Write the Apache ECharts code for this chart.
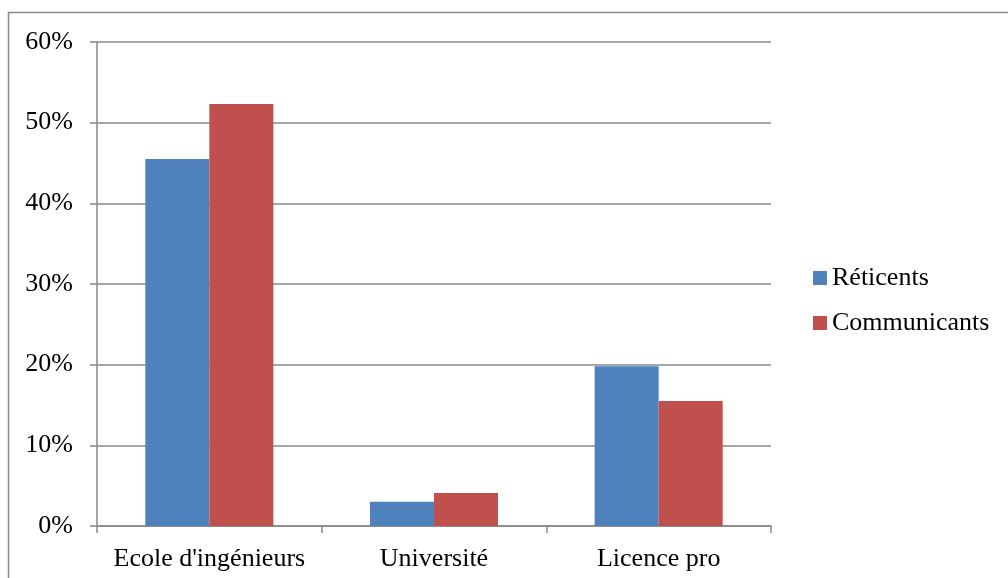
<!DOCTYPE html>
<html>
<head>
<meta charset="utf-8">
<script src="https://cdn.jsdelivr.net/npm/echarts@6/dist/echarts.min.js"></script>
<style>
html, body { margin: 0; padding: 0; background: #fff; }
#chart { width: 1008px; height: 578px; }
</style>
</head>
<body>
<div id="chart"></div>
<script>
// données
var categories = ["Ecole d'ingénieurs", 'Université', 'Licence pro'];
var seriesNames = ['Réticents', 'Communicants'];
var reticents = [45.5, 3.0, 19.8];
var communicants = [52.3, 4.1, 15.5];

var chart = echarts.init(document.getElementById('chart'));
var fontFam = '"Liberation Serif", "DejaVu Serif", serif';

var option = {
    backgroundColor: '#fff',
    textStyle: { fontFamily: fontFam },
    graphic: [{
        type: 'rect',
        shape: { x: 8.5, y: 12.5, width: 1010, height: 600 },
        style: { fill: 'none', stroke: '#898989', lineWidth: 1.5 },
        silent: true
    }],
    grid: { left: 97, top: 42, right: 237, bottom: 52 },
    legend: {
        orient: 'vertical',
        left: 808,
        top: 260,
        itemWidth: 14,
        itemHeight: 14,
        itemGap: 19,
        icon: 'rect',
        data: seriesNames,
        textStyle: { fontFamily: fontFam, fontSize: 26, color: '#000' }
    },
    xAxis: {
        type: 'category',
        data: categories,
        axisLine: { lineStyle: { color: '#888', width: 1.5 } },
        axisTick: { show: true, alignWithLabel: false, length: 7, lineStyle: { color: '#888', width: 1.5 } },
        axisLabel: { fontFamily: fontFam, fontSize: 26, color: '#000', margin: 20, interval: 0, hideOverlap: false }
    },
    yAxis: {
        type: 'value',
        min: 0,
        max: 60,
        interval: 10,
        axisLine: { show: true, lineStyle: { color: '#888', width: 1.5 } },
        axisTick: { show: true, length: 7, lineStyle: { color: '#888', width: 1.5 } },
        axisLabel: { fontFamily: fontFam, fontSize: 26, color: '#000', margin: 24, formatter: '{value}%' },
        splitLine: { lineStyle: { color: '#888', width: 1.5 } }
    },
    series: [{
        name: seriesNames[0],
        type: 'bar',
        data: reticents,
        barGap: '0%',
        barCategoryGap: '43%',
        itemStyle: { color: '#4F81BD' }
    }, {
        name: seriesNames[1],
        type: 'bar',
        data: communicants,
        barGap: '0%',
        barCategoryGap: '43%',
        itemStyle: { color: '#C0504D' }
    }]
};

chart.setOption(option);

window.onresize = function () {
    chart.resize();
};
</script>
</body>
</html>
